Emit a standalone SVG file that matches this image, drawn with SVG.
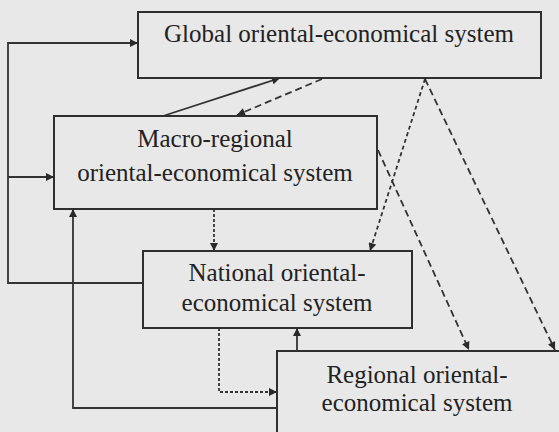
<svg xmlns="http://www.w3.org/2000/svg" width="559" height="432" viewBox="0 0 559 432">
  <style>
    .bg { fill: #e8e8e8; }
    .box { fill: #e8e8e8; stroke: #2f2f2f; stroke-width: 2; }
    .lbl { font-family: "Liberation Serif", "Times New Roman", serif; font-size: 25px; fill: #222; text-anchor: middle; }
    .ln { fill: none; stroke: #333; stroke-width: 1.8; }
    .dash { stroke-dasharray: 7 4; }
    .dot { stroke-dasharray: 4 3; }
    .fine { stroke-dasharray: 3 2; }
  </style>
  <defs>
    <marker id="arrow" viewBox="0 0 10 10" refX="10" refY="5" markerWidth="9" markerHeight="8" markerUnits="userSpaceOnUse" orient="auto">
      <path d="M0,0 L10,5 L0,10 z" fill="#2a2a2a"/>
    </marker>
  </defs>

  <rect class="bg" x="0" y="0" width="559" height="432"/>

  <!-- connectors -->
  <g id="connectors">
    <!-- national feeds back to global and macro-regional levels -->
    <path class="ln" d="M143,283 H8 V43 H138" marker-end="url(#arrow)"/>
    <path class="ln" d="M8,177 H54" marker-end="url(#arrow)"/>
    <!-- regional up to macro-regional -->
    <path class="ln" d="M277,408 H73 V209" marker-end="url(#arrow)"/>
    <!-- macro-regional to global -->
    <path class="ln" d="M163,116 L280,78" marker-end="url(#arrow)"/>
    <!-- global to macro-regional -->
    <path class="ln dash" d="M322,79 L237,115" marker-end="url(#arrow)"/>
    <!-- macro-regional to national -->
    <path class="ln fine" d="M214,209 V251" marker-end="url(#arrow)"/>
    <!-- global to national -->
    <path class="ln dot" d="M425,79 L370,251" marker-end="url(#arrow)"/>
    <!-- global to regional -->
    <path class="ln dash" d="M425,79 L555,350" marker-end="url(#arrow)"/>
    <!-- macro-regional to regional -->
    <path class="ln dash" d="M378,150 L469,350" marker-end="url(#arrow)"/>
    <!-- national to regional -->
    <path class="ln fine" d="M219,328 V392 H277" marker-end="url(#arrow)"/>
    <!-- regional to national -->
    <path class="ln" d="M297,351 V328" marker-end="url(#arrow)"/>
  </g>

  <g id="global">
    <rect class="box" x="138" y="12" width="403" height="66"/>
    <text class="lbl" x="339" y="42">Global oriental-economical system</text>
  </g>

  <g id="macro-regional">
    <rect class="box" x="54" y="116" width="323" height="93"/>
    <text class="lbl" x="215" y="147">Macro-regional</text>
    <text class="lbl" x="215" y="181">oriental-economical system</text>
  </g>

  <g id="national">
    <rect class="box" x="143" y="251" width="269" height="77"/>
    <text class="lbl" x="277" y="281">National oriental-</text>
    <text class="lbl" x="277" y="311">economical system</text>
  </g>

  <g id="regional">
    <rect class="box" x="277" y="351" width="290" height="100"/>
    <text class="lbl" x="417" y="383">Regional oriental-</text>
    <text class="lbl" x="417" y="411">economical system</text>
  </g>
</svg>
